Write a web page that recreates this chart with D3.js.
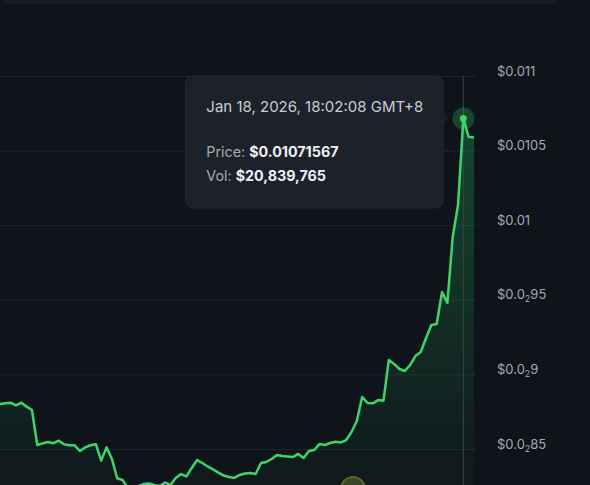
<!DOCTYPE html>
<html>
<head>
<meta charset="utf-8">
<script src="https://cdn.jsdelivr.net/npm/d3@7"></script>
<style>
  html, body { margin: 0; padding: 0; background: #0f131a; overflow: hidden; }
  svg { display: block; font-family: Inter, "Noto Sans", sans-serif; }
</style>
</head>
<body>
<script>
var width = 590, height = 485;
var plotRight = 474;

// hourly prices (USD)
var prices = [
  0.008802, 0.008806, 0.008810, 0.008793, 0.008810, 0.008784, 0.008761, 0.008527, 0.008538, 0.008547,
  0.008538, 0.008556, 0.008532, 0.008525, 0.008525, 0.008487, 0.008511, 0.008525, 0.008532, 0.008422,
  0.008511, 0.008435, 0.008304, 0.008292, 0.008239, 0.008232, 0.008252, 0.008265, 0.008269, 0.008259,
  0.008252, 0.008275, 0.008259, 0.008306, 0.008332, 0.008316, 0.008373, 0.008426, 0.008406, 0.008383,
  0.008363, 0.008342, 0.008322, 0.008312, 0.008306, 0.008326, 0.008336, 0.008339, 0.008332, 0.008406,
  0.008413, 0.008433, 0.008460, 0.008453, 0.008450, 0.008446, 0.008467, 0.008440, 0.008487, 0.008493,
  0.008534, 0.008527, 0.008540, 0.008549, 0.008544, 0.008560, 0.008614, 0.008688, 0.008849, 0.008808,
  0.008806, 0.008828, 0.008824, 0.009097, 0.009070, 0.009036, 0.009023, 0.009063, 0.009123, 0.009150,
  0.009244, 0.009331, 0.009338, 0.009552, 0.009479, 0.009921, 0.010135, 0.01071567, 0.010591, 0.010589
];

var tickVals = [0.0085, 0.009, 0.0095, 0.01, 0.0105, 0.011];
// [prefix, subscript, rest]
var tickLabels = [
  ["$0.0", "2", "85"],
  ["$0.0", "2", "9"],
  ["$0.0", "2", "95"],
  ["$0.01", "", ""],
  ["$0.0105", "", ""],
  ["$0.011", "", ""]
];

var hoverIndex = 87;
var hoverDate = "Jan 18, 2026, 18:02:08 GMT+8";
var hoverVol = "$20,839,765";

var svg = d3.select("body").append("svg")
  .attr("width", width)
  .attr("height", height);

var defs = svg.append("defs");
var grad = defs.append("linearGradient")
  .attr("id", "areaFill")
  .attr("gradientUnits", "userSpaceOnUse")
  .attr("x1", 0).attr("x2", 0)
  .attr("y1", 110).attr("y2", 485);
grad.append("stop").attr("offset", 0).attr("stop-color", "#22c55e").attr("stop-opacity", 0.3);
grad.append("stop").attr("offset", 1).attr("stop-color", "#22c55e").attr("stop-opacity", 0.03);

svg.append("rect")
  .attr("width", width).attr("height", height)
  .attr("fill", "#0f131a");

// panel above the chart
svg.append("rect")
  .attr("x", 3).attr("y", -12)
  .attr("width", 555).attr("height", 15)
  .attr("rx", 6)
  .attr("fill", "#171b22")
  .attr("stroke", "#252a33");

var x = d3.scaleLinear()
  .domain([0, prices.length - 1])
  .range([0, plotRight]);

var y = d3.scaleLinear()
  .domain([0.0085, 0.011])
  .range([449, 76]);

// grid
var grid = svg.append("g")
  .call(d3.axisRight(y).tickValues(tickVals).tickSize(plotRight + 2).tickFormat(""));
grid.select(".domain").remove();
grid.selectAll("line").attr("stroke", "#20252e");

// area + line
var area = d3.area()
  .x(function(d, i) { return x(i); })
  .y0(height + 5)
  .y1(function(d) { return y(d); });

var line = d3.line()
  .x(function(d, i) { return x(i); })
  .y(function(d) { return y(d); });

svg.append("path")
  .datum(prices)
  .attr("d", area)
  .attr("fill", "url(#areaFill)");

// crosshair
svg.append("line")
  .attr("x1", x(hoverIndex)).attr("x2", x(hoverIndex))
  .attr("y1", 76).attr("y2", height)
  .attr("stroke", "#3a414d")
  .attr("stroke-width", 1);

svg.append("path")
  .datum(prices)
  .attr("d", line)
  .attr("fill", "none")
  .attr("stroke", "#3fd46b")
  .attr("stroke-width", 2.5)
  .attr("stroke-linejoin", "round");

// watermark logo (mostly cut off)
svg.append("circle")
  .attr("cx", 353).attr("cy", 489)
  .attr("r", 12)
  .attr("fill", "#46502a")
  .attr("stroke", "#7a7634")
  .attr("stroke-width", 2)
  .attr("opacity", 0.8);

// y axis labels
var yAxis = svg.append("g")
  .attr("transform", "translate(497,0)")
  .call(d3.axisRight(y).tickValues(tickVals).tickSize(0).tickPadding(0).tickFormat(""));
yAxis.select(".domain").remove();
yAxis.selectAll(".tick text").each(function(d) {
  var parts = tickLabels[tickVals.indexOf(d)];
  var t = d3.select(this)
    .attr("x", 0)
    .attr("dy", "-1")
    .attr("fill", "#a2a9b5")
    .style("font-size", "13px")
    .style("font-family", "Inter, sans-serif");
  t.append("tspan").text(parts[0]);
  if (parts[1]) {
    t.append("tspan").text(parts[1])
      .style("font-size", "9px")
      .attr("dy", "3");
    t.append("tspan").text(parts[2]).attr("dy", "-3");
  }
});

// hover dot
var px = x(hoverIndex), py = y(prices[hoverIndex]);
svg.append("circle")
  .attr("cx", px).attr("cy", py).attr("r", 11)
  .attr("fill", "#3fd46b").attr("opacity", 0.25);
svg.append("circle")
  .attr("cx", px).attr("cy", py).attr("r", 3.5)
  .attr("fill", "#3fd46b");

// tooltip
var tipW = 258, tipH = 132;
var tipX = px - 20 - tipW, tipY = 76;
var tip = svg.append("g").attr("transform", "translate(" + tipX + "," + tipY + ")");
tip.append("rect")
  .attr("width", tipW).attr("height", tipH)
  .attr("rx", 8)
  .attr("fill", "#1d222a")
  .attr("stroke", "#242a33");
tip.append("path")
  .attr("d", "M" + (tipW - 0.5) + "," + (py - tipY - 6) + "L" + (tipW + 5) + "," + (py - tipY) + "L" + (tipW - 0.5) + "," + (py - tipY + 6) + "Z")
  .attr("fill", "#1d222a");

tip.append("text")
  .attr("x", 21).attr("y", 36)
  .attr("fill", "#c8cdd5")
  .style("font-size", "15px")
  .text(hoverDate);

var priceText = tip.append("text")
  .attr("x", 21).attr("y", 81)
  .style("font-size", "14.3px");
priceText.append("tspan").attr("fill", "#a4aab4").text("Price: ");
priceText.append("tspan").attr("fill", "#eef0f3").style("font-weight", "700")
  .text("$" + prices[hoverIndex].toFixed(8));

var volText = tip.append("text")
  .attr("x", 21).attr("y", 105)
  .style("font-size", "14.3px");
volText.append("tspan").attr("fill", "#a4aab4").text("Vol: ");
volText.append("tspan").attr("fill", "#eef0f3").style("font-weight", "700").text(hoverVol);
</script>
</body>
</html>
